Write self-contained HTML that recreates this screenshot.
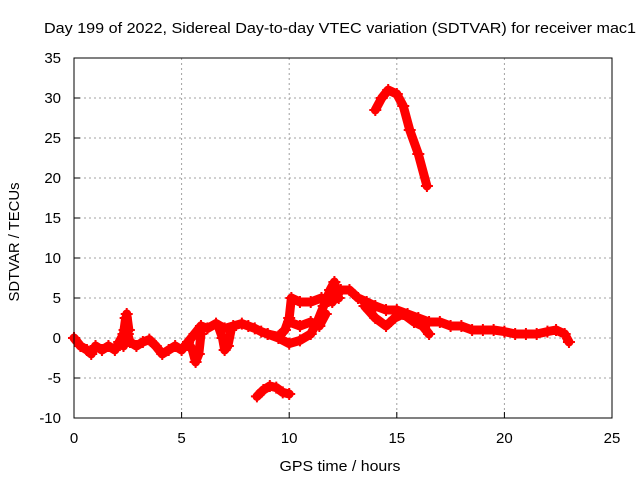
<!DOCTYPE html>
<html><head><meta charset="utf-8"><style>
body{margin:0;background:#fff;font-family:"Liberation Sans",sans-serif}
svg text{font-family:"Liberation Sans",sans-serif;font-size:15px;fill:#000}
</style></head><body>
<svg id="chart" width="640" height="480" xmlns="http://www.w3.org/2000/svg">
<text x="340" y="33" text-anchor="middle" font-size="16" textLength="592" lengthAdjust="spacingAndGlyphs">Day 199 of 2022, Sidereal Day-to-day VTEC variation (SDTVAR) for receiver mac1</text>
<text x="340" y="471" text-anchor="middle" font-size="16" textLength="121" lengthAdjust="spacingAndGlyphs">GPS time / hours</text>
<text transform="translate(19,242) rotate(-90)" text-anchor="middle" font-size="16" textLength="119" lengthAdjust="spacingAndGlyphs">SDTVAR / TECUs</text>
<g id="grid"></g><g id="ticks"></g><g id="series"></g>
<rect x="74" y="58" width="538" height="360" fill="none" stroke="#000" stroke-width="1"/>
</svg>
<script>
const xTicks=[0,5,10,15,20,25];
const yTicks=[-10,-5,0,5,10,15,20,25,30,35];
const traceMain=[[0,0],[0.3,-1],[0.6,-1.5],[0.8,-2],[1.0,-1],[1.3,-1.5],[1.6,-1],[1.9,-1.5],[2.1,-0.5],[2.3,0.5],[2.4,2.5],[2.5,0.5],[2.6,-0.5],[2.9,-1],[3.2,-0.5],[3.5,-0.2],[3.8,-1],[4.1,-2],[4.4,-1.5],[4.7,-1],[5.0,-1.5],[5.3,-0.5],[5.6,0.5],[5.9,1.5],[6.2,1.2],[6.6,1.8],[7.0,1.2],[7.4,1.5],[7.8,1.8],[8.1,1.5],[8.4,1.2],[8.7,0.8],[9.0,0.5],[9.5,0.2],[9.8,1.0],[10.0,2.5],[10.1,5],[10.5,4.5],[11,4.5],[11.5,5],[12,4.5],[12.4,6],[12.8,6],[13.2,5],[13.6,4.5],[14,4],[14.5,3.5],[15,3.5],[15.5,3],[16,2.5],[16.5,2],[17,2],[17.5,1.5],[18,1.5],[18.5,1],[19,1],[19.5,1],[20,0.8],[20.5,0.5],[21,0.5],[21.5,0.5],[22,0.8],[22.4,1],[22.8,0.5],[23,-0.5]];
const traceDip1=[[5.3,-0.5],[5.5,-1.5],[5.65,-3],[5.8,-2],[5.9,0.5]];
const traceDip2=[[6.7,1.5],[6.9,0],[7.0,-1.5],[7.15,-1],[7.3,1]];
const traceSpike=[[2.3,-1],[2.35,1],[2.45,3],[2.55,1]];
const traceLoop=[[9.0,0.5],[9.5,0],[10,-0.7],[10.5,-0.3],[11,0.5],[11.3,2],[11.6,4],[11.9,6],[12.1,7],[12.3,5]];
const traceLoop2=[[10,2],[10.5,1.5],[11,2],[11.4,1.5],[11.7,3]];
const traceBranch=[[13.5,4],[14,2.5],[14.5,1.5],[14.9,2.5],[15.3,3],[15.8,2],[16.2,1.5],[16.5,0.5]];
const traceHigh=[[14,28.5],[14.3,30],[14.6,31],[15,30.5],[15.3,29],[15.6,26],[16.0,23],[16.4,19]];
const traceLow=[[8.5,-7.3],[8.8,-6.5],[9.1,-6],[9.4,-6.2],[9.7,-6.8],[10.0,-7]];
const X=v=>74+v*538/25, Y=v=>418-(v+10)*8;
const NS="http://www.w3.org/2000/svg";
function mk(t,a,p){const e=document.createElementNS(NS,t);for(const k in a)e.setAttribute(k,a[k]);p.appendChild(e);return e;}
const grid=document.getElementById('grid'),ticks=document.getElementById('ticks'),ser=document.getElementById('series');
xTicks.forEach(v=>{
 if(v>0&&v<25){const l=mk('line',{x1:X(v),x2:X(v),y1:58,y2:418,stroke:'#a0a0a0','stroke-dasharray':'2,3'},grid);
 
 }
 const t=mk('text',{x:X(v),y:443,'text-anchor':'middle'},ticks);t.textContent=v;
 
 
 mk('line',{x1:X(v),x2:X(v),y1:418,y2:412,stroke:'#000'},ticks);
});
yTicks.forEach(v=>{
 if(v>-10&&v<35){const l=mk('line',{x1:74,x2:612,y1:Y(v),y2:Y(v),stroke:'#a0a0a0','stroke-dasharray':'2,3'},grid);
 
 }
 const t=mk('text',{x:61,y:Y(v)+5,'text-anchor':'end'},ticks);t.textContent=v;
 
 
 mk('line',{x1:74,x2:80,y1:Y(v),y2:Y(v),stroke:'#000'},ticks);
});
const traces=[['trace-main',traceMain],['trace-dip-1',traceDip1],['trace-dip-2',traceDip2],['trace-spike',traceSpike],['trace-loop',traceLoop],['trace-loop-2',traceLoop2],['trace-branch',traceBranch],['trace-high',traceHigh],['trace-low',traceLow]];
traces.forEach(([n,d])=>{
 const g=mk('g',{},ser);
 
 
 mk('polyline',{points:d.map(p=>X(p[0])+','+Y(p[1])).join(' '),fill:'none',stroke:'#ff0000','stroke-width':9,'stroke-linejoin':'round','stroke-linecap':'round'},g);
 d.forEach(p=>{const x=X(p[0]),y=Y(p[1]);
  mk('path',{d:`M${x-6},${y}H${x+6}M${x},${y-6}V${y+6}`,stroke:'#ff0000','stroke-width':2},g);});
});
</script>
</body></html>
